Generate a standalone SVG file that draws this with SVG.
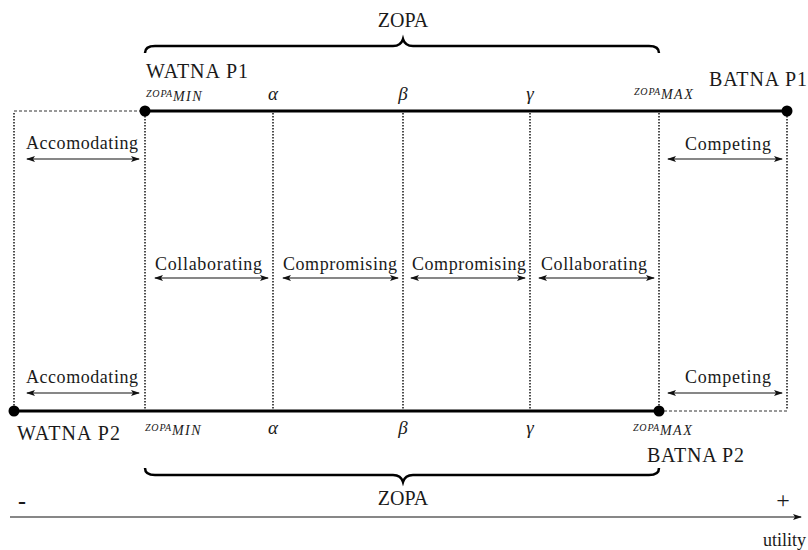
<svg xmlns="http://www.w3.org/2000/svg" width="808" height="550" viewBox="0 0 808 550">
<defs>
<style>
text{font-family:"Liberation Serif","Times New Roman",serif;fill:#1a1a1a}
.lbl{font-size:18px}
.big{font-size:20px}
.greek{font-size:19px;font-style:italic}
.sc{font-size:10px;font-style:italic;letter-spacing:0.8px}
.sub{font-size:14px;font-style:italic;letter-spacing:1.5px}
.thick{stroke:#000;stroke-width:3;fill:none}
.dot{stroke:#222;stroke-width:1.6;stroke-dasharray:1.6 1.4;fill:none}
.dash{stroke:#333;stroke-width:1.2;stroke-dasharray:3 2;fill:none}
.arr{stroke:#111;stroke-width:1.2;fill:none;marker-start:url(#ah);marker-end:url(#ah)}
.brace{stroke:#000;stroke-width:2.5;fill:none}
</style>
<marker id="ah" markerUnits="userSpaceOnUse" markerWidth="10" markerHeight="8" refX="8" refY="4" orient="auto-start-reverse">
<path d="M0,1 L9,4 L0,7 L2,4 z" fill="#111"/>
</marker>
<marker id="ax" markerUnits="userSpaceOnUse" markerWidth="10" markerHeight="8" refX="8" refY="4" orient="auto">
<path d="M0,1 L9,4 L0,7 L2,4 z" fill="#111"/>
</marker>
</defs>

<g id="zopa-top">
<text class="big" x="403" y="27" text-anchor="middle">ZOPA</text>
<path class="brace" d="M145,53 Q145,46 155,46 L393,46 Q401,46 403,39 Q405,46 413,46 L649,46 Q659,46 659,53"/>
</g>

<g id="grid">
<line class="dot" x1="14" y1="113" x2="14" y2="410"/>
<line class="dot" x1="145" y1="113" x2="145" y2="410"/>
<line class="dot" x1="273" y1="113" x2="273" y2="410"/>
<line class="dot" x1="403" y1="113" x2="403" y2="410"/>
<line class="dot" x1="530" y1="113" x2="530" y2="410"/>
<line class="dot" x1="659" y1="113" x2="659" y2="410"/>
<line class="dot" x1="787" y1="113" x2="787" y2="410"/>
<line class="dash" x1="14" y1="111" x2="145" y2="111"/>
<line class="dash" x1="659" y1="411" x2="787" y2="411"/>
</g>

<g id="line-p1">
<line class="thick" x1="145" y1="111" x2="787" y2="111"/>
<circle cx="145" cy="111" r="5.5" fill="#000"/>
<circle cx="787" cy="111" r="5.5" fill="#000"/>
<text class="big" x="146" y="78" textLength="102">WATNA P1</text>
<text class="big" x="709" y="86" textLength="98">BATNA P1</text>
<text x="146" y="97"><tspan class="sc">ZOPA</tspan><tspan class="sub" dy="4">MIN</tspan></text>
<text class="greek" x="273" y="100" text-anchor="middle">α</text>
<text class="greek" x="403" y="100" text-anchor="middle">β</text>
<text class="greek" x="530" y="100" text-anchor="middle">γ</text>
<text x="634" y="95"><tspan class="sc">ZOPA</tspan><tspan class="sub" dy="4">MAX</tspan></text>
</g>

<g id="line-p2">
<line class="thick" x1="14" y1="411" x2="659" y2="411"/>
<circle cx="14" cy="411" r="5.5" fill="#000"/>
<circle cx="659" cy="411" r="5.5" fill="#000"/>
<text class="big" x="17" y="440" textLength="103">WATNA P2</text>
<text class="big" x="647" y="462" textLength="97">BATNA P2</text>
<text x="145" y="431"><tspan class="sc">ZOPA</tspan><tspan class="sub" dy="4">MIN</tspan></text>
<text class="greek" x="273" y="434" text-anchor="middle">α</text>
<text class="greek" x="403" y="434" text-anchor="middle">β</text>
<text class="greek" x="530" y="434" text-anchor="middle">γ</text>
<text x="633" y="431"><tspan class="sc">ZOPA</tspan><tspan class="sub" dy="4">MAX</tspan></text>
</g>

<g id="styles">
<text class="lbl" x="26" y="149" textLength="112">Accomodating</text>
<text class="lbl" x="685" y="150" textLength="86">Competing</text>
<text class="lbl" x="155" y="270" textLength="107">Collaborating</text>
<text class="lbl" x="283" y="270" textLength="114">Compromising</text>
<text class="lbl" x="412" y="270" textLength="114">Compromising</text>
<text class="lbl" x="541" y="270" textLength="106">Collaborating</text>
<text class="lbl" x="26" y="383" textLength="112">Accomodating</text>
<text class="lbl" x="685" y="383" textLength="86">Competing</text>
</g>

<g id="connectors">
<line class="arr" x1="27" y1="159" x2="139" y2="159"/>
<line class="arr" x1="668" y1="159" x2="782" y2="159"/>
<line class="arr" x1="155" y1="278" x2="268" y2="278"/>
<line class="arr" x1="283" y1="278" x2="398" y2="278"/>
<line class="arr" x1="411" y1="278" x2="525" y2="278"/>
<line class="arr" x1="539" y1="278" x2="654" y2="278"/>
<line class="arr" x1="27" y1="393" x2="139" y2="393"/>
<line class="arr" x1="668" y1="393" x2="782" y2="393"/>
</g>

<g id="zopa-bottom">
<path class="brace" d="M145,468 Q145,475 155,475 L393,475 Q401,475 403,482 Q405,475 413,475 L649,475 Q659,475 659,468"/>
<text class="big" x="403" y="505" text-anchor="middle">ZOPA</text>
</g>

<g id="axis">
<line x1="10" y1="517" x2="801" y2="517" stroke="#111" stroke-width="1.2" marker-end="url(#ax)"/>
<text x="22" y="509" text-anchor="middle" font-size="24" font-weight="bold">-</text>
<text x="783" y="508" text-anchor="middle" font-size="24">+</text>
<text class="lbl" x="806" y="546" text-anchor="end">utility</text>
</g>
</svg>
